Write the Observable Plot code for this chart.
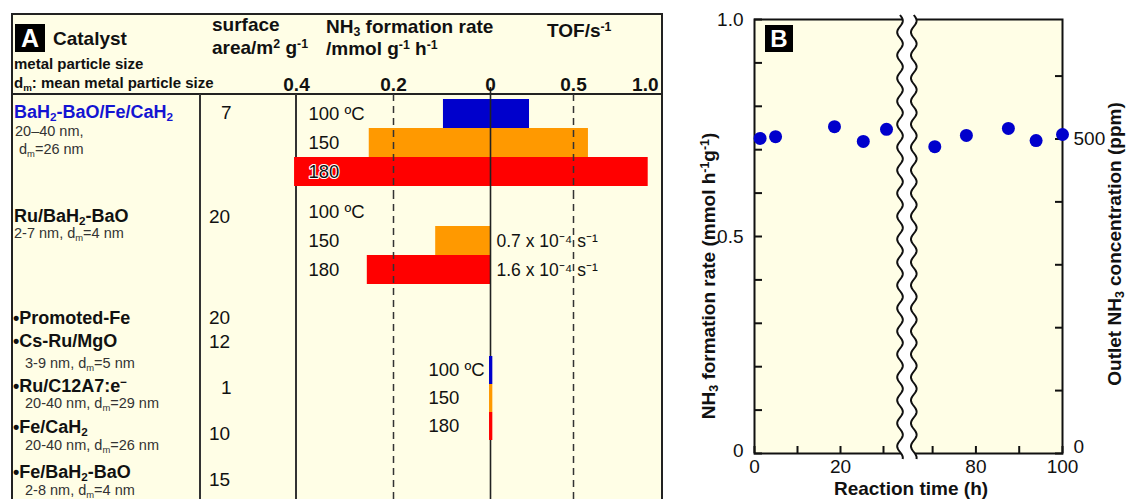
<!DOCTYPE html>
<html>
<head>
<meta charset="utf-8">
<script src="https://cdn.jsdelivr.net/npm/d3@7"></script>
<script src="https://cdn.jsdelivr.net/npm/@observablehq/plot@0.6"></script>
<style>
  html, body { margin: 0; padding: 0; background: #fff; }
  #root { position: relative; width: 1126px; height: 499px; overflow: hidden; background: #fff;
          font-family: "Liberation Sans", Arial, Helvetica, sans-serif; color: #111; }
  .abs { position: absolute; }
  .t { position: absolute; white-space: nowrap; line-height: 1; transform: translateY(-50%); }
  .t sub, .t sup { font-size: 0.65em; line-height: 0; position: relative; vertical-align: baseline; }
  .t sup { top: -0.48em; }
  .t sub { top: 0.28em; }
  .rot { position: absolute; white-space: nowrap; line-height: 1; transform: translate(-50%, -50%) rotate(-90deg); font-weight: bold; font-size: 19px; }
  .rot sub, .rot sup { font-size: 0.65em; line-height: 0; position: relative; vertical-align: baseline; }
  .rot sup { top: -0.48em; }
  .rot sub { top: 0.28em; }
  .badge { position: absolute; background: #000; color: #fff; font-weight: bold; display: flex; align-items: center; justify-content: center; }
  svg { overflow: visible; }
</style>
</head>
<body>
<div id="root"></div>
<script>
// ---------------- DATA ----------------
// Panel A: temperatures and bar colours
const temps = ["100", "150", "180"];
const tempLabels = ["100 ºC", "150", "180"];
const tempColors = ["#0000cc", "#ff9900", "#ff0000"];

// BaH2-BaO/Fe/CaH2: NH3 formation rate (mmol g-1 h-1, drawn leftwards) and TOF (s-1, drawn rightwards)
const rateFeCaH2 = [0.097, 0.25, 0.404];
const tofFeCaH2 = [0.235, 0.59, 0.95];

// Ru/BaH2-BaO
const rateRuBa = [0, 0.113, 0.254];
const tofRuBa = [0, 0, 0];
const tofRuBaText = ["", "0.7 x 10⁻⁴ s⁻¹", "1.6 x 10⁻⁴ s⁻¹"];

// Other catalysts (tiny)
const rateOthers = [0.002, 0.002, 0.002];
const tofOthers = [0.014, 0.014, 0.014];

// Panel A axis ticks
const rateTicks = [0.4, 0.2, 0];
const tofTicks = [0.5, 1.0];

// Panel A table
const catalystNames = [
  "BaH<sub>2</sub>-BaO/Fe/CaH<sub>2</sub>",
  "Ru/BaH<sub>2</sub>-BaO",
  "•Promoted-Fe",
  "•Cs-Ru/MgO",
  "•Ru/C12A7:e<sup>−</sup>",
  "•Fe/CaH<sub>2</sub>",
  "•Fe/BaH<sub>2</sub>-BaO"
];
const particleSizes = [
  "20–40 nm,",
  "2-7 nm, d<sub>m</sub>=4 nm",
  "",
  "3-9 nm, d<sub>m</sub>=5 nm",
  "20-40 nm, d<sub>m</sub>=29 nm",
  "20-40 nm, d<sub>m</sub>=26 nm",
  "2-8 nm, d<sub>m</sub>=4 nm"
];
const meanSizeFirst = "d<sub>m</sub>=26 nm";
const surfaceAreas = ["7", "20", "20", "12", "1", "10", "15"];

// Panel B: stability test
const times = [1.3, 4.9, 18.6, 25.3, 30.7, 70.5, 77.8, 87.5, 93.9, 100];
const rates = [0.726, 0.730, 0.753, 0.719, 0.747, 0.707, 0.733, 0.749, 0.721, 0.735];
const rateTickValues = [0, 0.1, 0.2, 0.3, 0.4, 0.5, 0.6, 0.7, 0.8, 0.9, 1.0];
const rateTickLabels = [0, 0.5, 1.0];
const ppmTickValues = [0, 100, 200, 300, 400, 500, 600];
const ppmTickLabels = [0, 500];
const ppmPerRate = 500 / 0.7247; // right axis: 500 ppm <-> 0.7247 mmol h-1 g-1
const timeTickValues = [0, 10, 20, 30, 70, 80, 90, 100];
const timeTickLabels = [0, 20, 80, 100];
const breakStart = 35, breakEnd = 66;

// ---------------- LAYOUT ----------------
const root = document.getElementById("root");
const FONT = '"Liberation Sans", Arial, Helvetica, sans-serif';
const BG = "#fffee6";

function box(x, y, w, h, bg) {
  const d = document.createElement("div");
  d.className = "abs";
  Object.assign(d.style, {left: x + "px", top: y + "px", width: w + "px", height: h + "px", background: bg});
  root.appendChild(d);
  return d;
}
function txt(html, x, cy, style = {}) {
  const d = document.createElement("div");
  d.className = "t";
  d.innerHTML = html;
  d.style.left = x + "px";
  d.style.top = cy + "px";
  Object.assign(d.style, style);
  root.appendChild(d);
  return d;
}

// Panel A frame
const frameA = box(11, 13, 652, 520, BG);
frameA.style.border = "2px solid #222";
frameA.style.boxSizing = "border-box";
box(11, 93, 652, 2, "#222");
box(199, 94, 2, 420, "#333");
box(295, 94, 2, 420, "#333");

// Panel A header
const badgeA = document.createElement("div");
badgeA.className = "badge";
Object.assign(badgeA.style, {left: "15px", top: "24px", width: "30px", height: "28px", fontSize: "25px"});
badgeA.textContent = "A";
root.appendChild(badgeA);
const hb = {fontWeight: "bold", fontSize: "19px"};
txt("Catalyst", 53, 38, hb);
txt("metal particle size", 14, 63, {fontWeight: "bold", fontSize: "15px"});
txt("d<sub>m</sub>: mean metal particle size", 14, 82, {fontWeight: "bold", fontSize: "15px"});
txt("surface", 212, 24, hb);
txt("area/m<sup>2</sup> g<sup>-1</sup>", 212, 47, hb);
txt("NH<sub>3</sub> formation rate", 326, 26, hb);
txt("/mmol g<sup>-1</sup> h<sup>-1</sup>", 326, 48, hb);
txt("TOF/s<sup>-1</sup>", 547, 30, hb);

// Panel A table rows (text positions)
const nameRows = [
  {x: 14, cy: 112, color: "#1414d2"},
  {x: 14, cy: 216},
  {x: 13, cy: 318},
  {x: 13, cy: 341},
  {x: 13, cy: 386},
  {x: 13, cy: 427},
  {x: 13, cy: 472}
];
const sizeRows = [
  {x: 15, cy: 131},
  {x: 14, cy: 233},
  null,
  {x: 25, cy: 363},
  {x: 25, cy: 403},
  {x: 25, cy: 445},
  {x: 25, cy: 490}
];
const areaRows = [
  {x: 221, cy: 112}, {x: 209, cy: 216}, {x: 209, cy: 317}, {x: 209, cy: 341},
  {x: 221, cy: 387}, {x: 209, cy: 433}, {x: 209, cy: 479}
];
catalystNames.forEach((n, i) => {
  txt(n, nameRows[i].x, nameRows[i].cy, {fontWeight: "bold", fontSize: "18px", color: nameRows[i].color || "#111"});
  if (sizeRows[i] && particleSizes[i]) txt(particleSizes[i], sizeRows[i].x, sizeRows[i].cy, {fontSize: "14.5px", color: "#333"});
  txt(surfaceAreas[i], areaRows[i].x, areaRows[i].cy, {fontSize: "19px"});
});
txt(meanSizeFirst, 19, 149, {fontSize: "14.5px", color: "#333"});

// ---------------- PANEL A BARS (Plot) ----------------
const xA = {type: "linear", domain: [-0.4, 0, 1.0], range: [0, 194, 360], axis: null};
function groupRows(rate, tof) {
  return temps.map((t, i) => ({temp: t, label: tempLabels[i], color: tempColors[i], rate: rate[i], tof: tof[i]}));
}
function barPlot({rows, top, height, mt, mb, labelDx, labelX, dashTop, zeroTop, barsOnTop = false, extra = []}) {
  const bars = Plot.barX(rows.filter(d => d.rate > 0 || d.tof > 0), {x1: d => -d.rate, x2: d => d.tof, y: "temp", fill: "color"});
  const rules = [
    Plot.ruleX([-0.2, 0.5], {stroke: "#333", strokeWidth: 1.5, strokeDasharray: "7,5", insetTop: -dashTop, insetBottom: -mb}),
    Plot.ruleX([0], {stroke: "#222", strokeWidth: 1.6, insetTop: -zeroTop, insetBottom: -mb})
  ];
  const p = Plot.plot({
    width: 366, height, marginLeft: 0, marginRight: 6, marginTop: mt, marginBottom: mb,
    x: xA,
    y: {domain: temps, padding: 0, axis: null},
    color: {type: "identity"},
    style: {fontFamily: FONT, fontSize: "18px", background: "transparent", overflow: "visible", color: "#111"},
    marks: [
      ...(barsOnTop ? [...rules, bars] : [bars, ...rules]),
      Plot.text(rows.filter(d => !(d.rate > 0.38)), {x: labelX, dx: labelDx, y: "temp", text: "label", textAnchor: "start", fontSize: 18.5, fill: "#111"}),
      Plot.text(rows.filter(d => d.rate > 0.38), {x: labelX, dx: labelDx, y: "temp", text: "label", textAnchor: "start", fontSize: 18.5, fill: "#111", stroke: "white", strokeWidth: 2.2, paintOrder: "stroke"}),
      ...extra
    ]
  });
  p.style.position = "absolute";
  p.style.left = "296px";
  p.style.top = top + "px";
  root.appendChild(p);
}

const axisTicksA = [
  ...rateTicks.map(v => ({x: -v, label: v === 0 ? "0" : v.toFixed(1)})),
  ...tofTicks.map(v => ({x: v, label: v.toFixed(1)}))
];
barPlot({
  rows: groupRows(rateFeCaH2, tofFeCaH2), top: 14, height: 178, mt: 84, mb: 6, labelX: -0.4, labelDx: 12,
  dashTop: 4, zeroTop: 11,
  extra: [
    Plot.text(axisTicksA.slice(0, -1), {x: "x", text: "label", frameAnchor: "top", dy: -21, fontWeight: "bold", fontSize: 19}),
    Plot.text(axisTicksA.slice(-1), {x: "x", text: "label", frameAnchor: "top", dy: -21, dx: 2, textAnchor: "end", fontWeight: "bold", fontSize: 19})
  ]
});
const ruRows = groupRows(rateRuBa, tofRuBa).map((d, i) => ({...d, tofText: tofRuBaText[i]}));
barPlot({
  rows: ruRows, top: 192, height: 108, mt: 5, mb: 16, labelX: -0.4, labelDx: 12, dashTop: 5, zeroTop: 5,
  extra: [
    Plot.text(ruRows.filter(d => d.tofText), {x: 0, dx: 6, y: "temp", text: "tofText", textAnchor: "start", fontSize: 17.5, fill: "#111"})
  ]
});
barPlot({
  rows: groupRows(rateOthers, tofOthers), top: 300, height: 199, mt: 55, mb: 58, labelX: 0, labelDx: -62,
  dashTop: 55, zeroTop: 55, barsOnTop: true
});

// ---------------- PANEL B (Plot) ----------------
const bData = times.map((t, i) => ({time: t, rate: rates[i]}));
function breakMark(index, scales, values, dims) {
  const xl = scales.x(breakStart) - 4.5, xr = scales.x(breakEnd) - 1;
  const y0 = dims.marginTop - 4, y1 = dims.height - dims.marginBottom + 6;
  const amp = 2.8, period = 23;
  const ys = d3.range(y0, y1 + 0.5, 1);
  const wave = (x0, y) => x0 + amp * Math.sin((y - y0) / period * 2 * Math.PI);
  const left = ys.map(y => [wave(xl, y), y]);
  const right = ys.map(y => [wave(xr, y), y]);
  const line = d3.line();
  const g = d3.create("svg:g");
  g.append("path").attr("d", line([...left, ...right.slice().reverse()]) + "Z").attr("fill", "white");
  g.append("path").attr("d", line(left)).attr("fill", "none").attr("stroke", "#111").attr("stroke-width", 2);
  g.append("path").attr("d", line(right)).attr("fill", "none").attr("stroke", "#111").attr("stroke-width", 2);
  return g.node();
}
const rateFmt = d => d === 0 ? "0" : d.toFixed(1);
const ppmFmt = d => String(Math.round(d * ppmPerRate));
const pB = Plot.plot({
  width: 446, height: 499, marginLeft: 74, marginRight: 64, marginTop: 19, marginBottom: 46,
  x: {type: "linear", domain: [0, breakStart, breakEnd, 100], range: [74, 224.5, 234.8, 382]},
  y: {type: "linear", domain: [0, 1]},
  style: {fontFamily: FONT, fontSize: "19px", background: "transparent", overflow: "visible", color: "#111"},
  marks: [
    Plot.frame({fill: BG, stroke: "#111", strokeWidth: 2}),
    Plot.axisY({anchor: "left", ticks: rateTickValues, tickSize: -8, tickFormat: () => "", strokeWidth: 2, label: null}),
    Plot.axisY({anchor: "left", ticks: rateTickLabels.filter(v => v > 0), tickSize: 0, tickPadding: 11, tickFormat: rateFmt, label: null}),
    Plot.axisY({anchor: "left", ticks: rateTickLabels.filter(v => v === 0), tickSize: 0, tickPadding: 11, dy: -3, tickFormat: rateFmt, label: null}),
    Plot.axisY({anchor: "right", ticks: ppmTickValues.map(p => p / ppmPerRate), tickSize: -8, tickFormat: () => "", strokeWidth: 2, label: null}),
    Plot.axisY({anchor: "right", ticks: ppmTickLabels.filter(v => v > 0).map(p => p / ppmPerRate), tickSize: 0, tickPadding: 11, tickFormat: ppmFmt, label: null}),
    Plot.axisY({anchor: "right", ticks: ppmTickLabels.filter(v => v === 0).map(p => p / ppmPerRate), tickSize: 0, tickPadding: 11, dy: -7, tickFormat: ppmFmt, label: null}),
    Plot.axisX({ticks: timeTickValues, tickSize: -7, tickFormat: () => "", strokeWidth: 2, label: null}),
    Plot.axisX({ticks: timeTickLabels, tickSize: 0, tickPadding: 6, tickFormat: d => String(d), label: null}),
    breakMark,
    Plot.dot(bData, {x: "time", y: "rate", r: 6.5, fill: "#0000cc", stroke: "none"})
  ]
});
pB.style.position = "absolute";
pB.style.left = "680px";
pB.style.top = "0px";
root.appendChild(pB);

const badgeB = document.createElement("div");
badgeB.className = "badge";
Object.assign(badgeB.style, {left: "765px", top: "25px", width: "28px", height: "27px", fontSize: "24px"});
badgeB.textContent = "B";
root.appendChild(badgeB);

function rot(html, x, y) {
  const d = document.createElement("div");
  d.className = "rot";
  d.innerHTML = html;
  d.style.left = x + "px";
  d.style.top = y + "px";
  root.appendChild(d);
}
rot("NH<sub>3</sub> formation rate (mmol h<sup>-1</sup>g<sup>-1</sup>)", 708, 276);
rot("Outlet NH<sub>3</sub> concentration (ppm)", 1114, 244);
const xl = document.createElement("div");
xl.className = "abs";
Object.assign(xl.style, {left: "911px", top: "488px", transform: "translate(-50%,-50%)", fontWeight: "bold", fontSize: "19px", whiteSpace: "nowrap", lineHeight: "1"});
xl.textContent = "Reaction time (h)";
root.appendChild(xl);
</script>
</body>
</html>
